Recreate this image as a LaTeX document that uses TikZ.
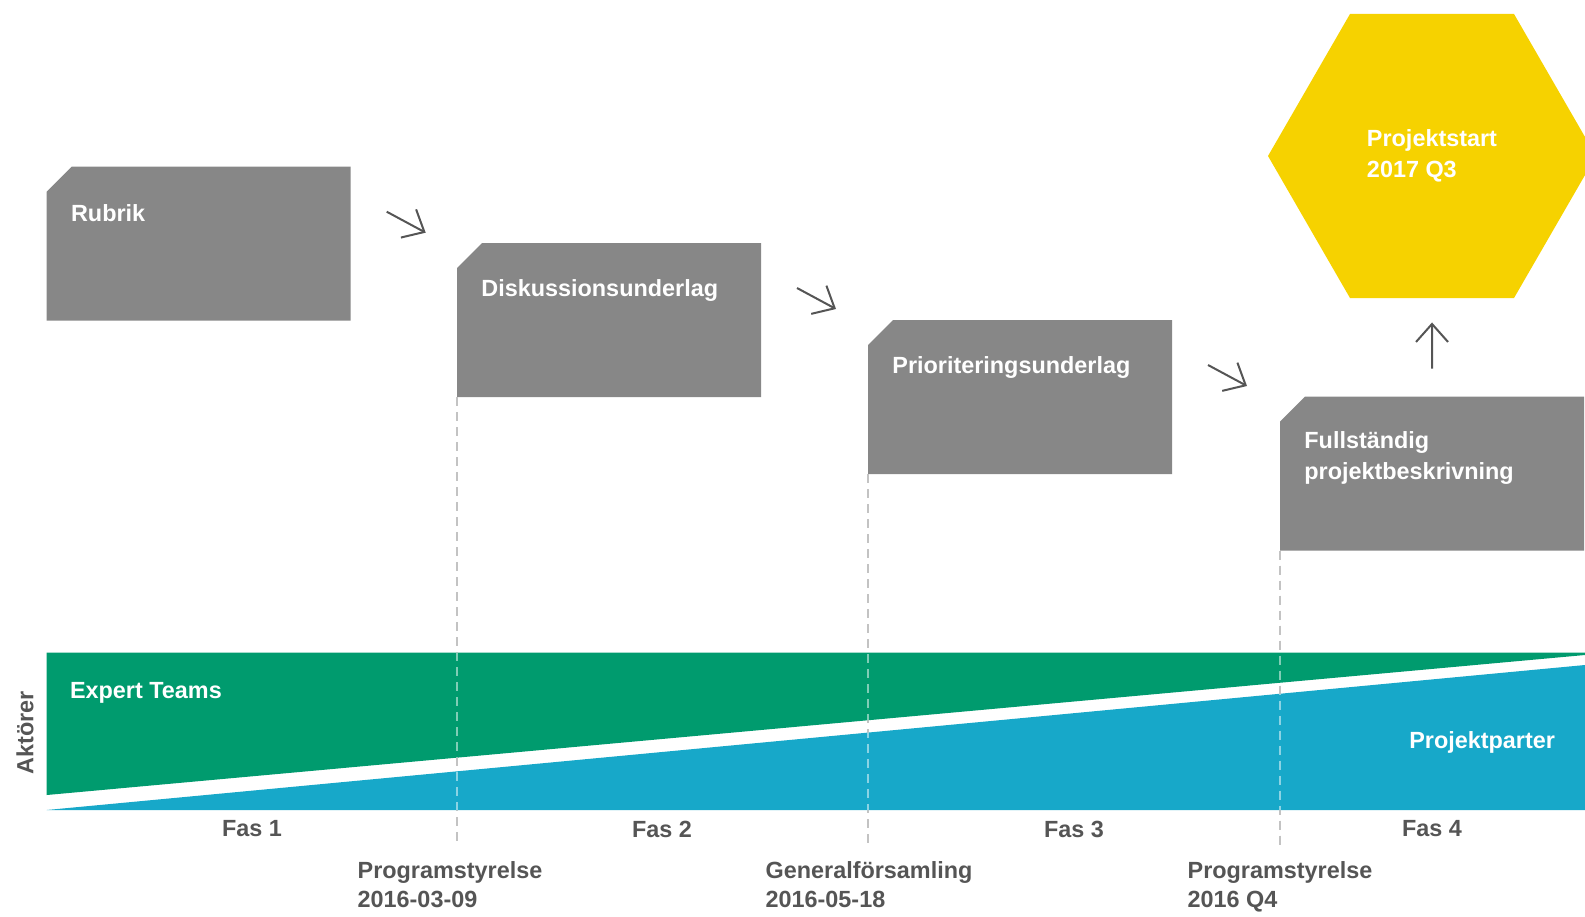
\documentclass[tikz,border=0pt]{standalone}
\usepackage{fontspec}
\setmainfont{Liberation Sans}
\usetikzlibrary{positioning,calc,arrows.meta,shapes.geometric}

\definecolor{stagegrey}{HTML}{878787}
\definecolor{expertgreen}{HTML}{009B6E}
\definecolor{partblue}{HTML}{17A8C9}
\definecolor{startyellow}{HTML}{F6D200}
\definecolor{labelgrey}{HTML}{555555}

\tikzset{
  stage/.style={anchor=north west, minimum width=152pt, minimum height=77pt, inner sep=0pt, outer sep=0pt},
  stagetext/.style={anchor=north west, align=left, inner sep=0pt, text=white},
  stagearrow/.style={draw=labelgrey, line width=1pt, -{Straight Barb[length=9pt,width=16pt]}},
  guide/.style={dash pattern=on 4.5pt off 3pt, line width=0.8pt},
  axislabel/.style={text=labelgrey}
}

\begin{document}
\begin{tikzpicture}[x=0.5pt,y=-0.5pt,font=\fontsize{11.7}{15.5}\selectfont\bfseries]
\useasboundingbox (0,0) rectangle (1585,916);
\clip (0,0) rectangle (1585,916);

% stages
\node [stage] (rubrik) at (46.7,166.7) {};
\node [stage] (disk) at (457,243) {};
\node [stage] (prio) at (868,320) {};
\node [stage] (full) at (1280,396.5) {};
\foreach \s in {rubrik,disk,prio,full}
  \fill [stagegrey] ([yshift=-12.5pt]\s.north west) -- ([xshift=12.5pt]\s.north west)
    -- (\s.north east) -- (\s.south east) -- (\s.south west) -- cycle;
\node [stagetext] (rubriktxt) at ([shift={(24,37)}]rubrik.north west) {Rubrik};
\node [stagetext] (disktxt) at ([shift={(24,36)}]disk.north west) {Diskussionsunderlag};
\node [stagetext] (priotxt) at ([shift={(24,36)}]prio.north west) {Prioriteringsunderlag};
\node [stagetext] (fulltxt) at ([shift={(24,35)}]full.north west) {Fullständig\\projektbeskrivning};

% goal
\node [regular polygon, regular polygon sides=6, minimum size=164pt, inner sep=0pt,
  fill=startyellow, text=white, align=left] (start) at (1432,156) {Projektstart\\2017 Q3};

% arrows
\draw [stagearrow] ([shift={(36,45)}]rubrik.north east) -- ++(39,21);
\draw [stagearrow] ([shift={(36,45)}]disk.north east) -- ++(39,21);
\draw [stagearrow] ([shift={(36,45)}]prio.north east) -- ++(39,21);
\draw [stagearrow, shorten <=14pt, shorten >=12pt] (full) -- (start);

% milestones
\coordinate (axis) at (0,845);
\foreach \s in {disk,prio,full}
  \draw [guide, stagegrey] (\s.south west) -- (\s.south west |- axis);

% actors
\fill [expertgreen] (46.7,652.7) -- (1585,652.7) -- (1585,655) -- (46.7,795) -- cycle;
\fill [partblue] (46.7,810) -- (1585,665) -- (1585,810) -- cycle;
\foreach \s in {disk,prio,full}
  \draw [guide, white, opacity=0.5] (\s.south west) -- (\s.south west |- axis);
\node [text=white, anchor=base west] (expert) at (63,698) {Expert Teams};
\node [text=white, anchor=base east] (parter) at (1562,748) {Projektparter};
\node [axislabel, rotate=90] (aktorer) at (25,733) {Aktörer};

% phases
\node [axislabel] (fas1) at (252,829) {Fas 1};
\node [axislabel] (fas2) at (662,829) {Fas 2};
\node [axislabel] (fas3) at (1074,829) {Fas 3};
\node [axislabel] (fas4) at (1432,829) {Fas 4};
\node [axislabel, anchor=north, align=left, font=\fontsize{11.7}{14.5}\selectfont\bfseries] (prog1) at (450,854) {Programstyrelse\\2016-03-09};
\node [axislabel, anchor=north, align=left, font=\fontsize{11.7}{14.5}\selectfont\bfseries] (genfors) at (869,854) {Generalförsamling\\2016-05-18};
\node [axislabel, anchor=north, align=left, font=\fontsize{11.7}{14.5}\selectfont\bfseries] (prog2) at (1280,854) {Programstyrelse\\2016 Q4};
\end{tikzpicture}
\end{document}
